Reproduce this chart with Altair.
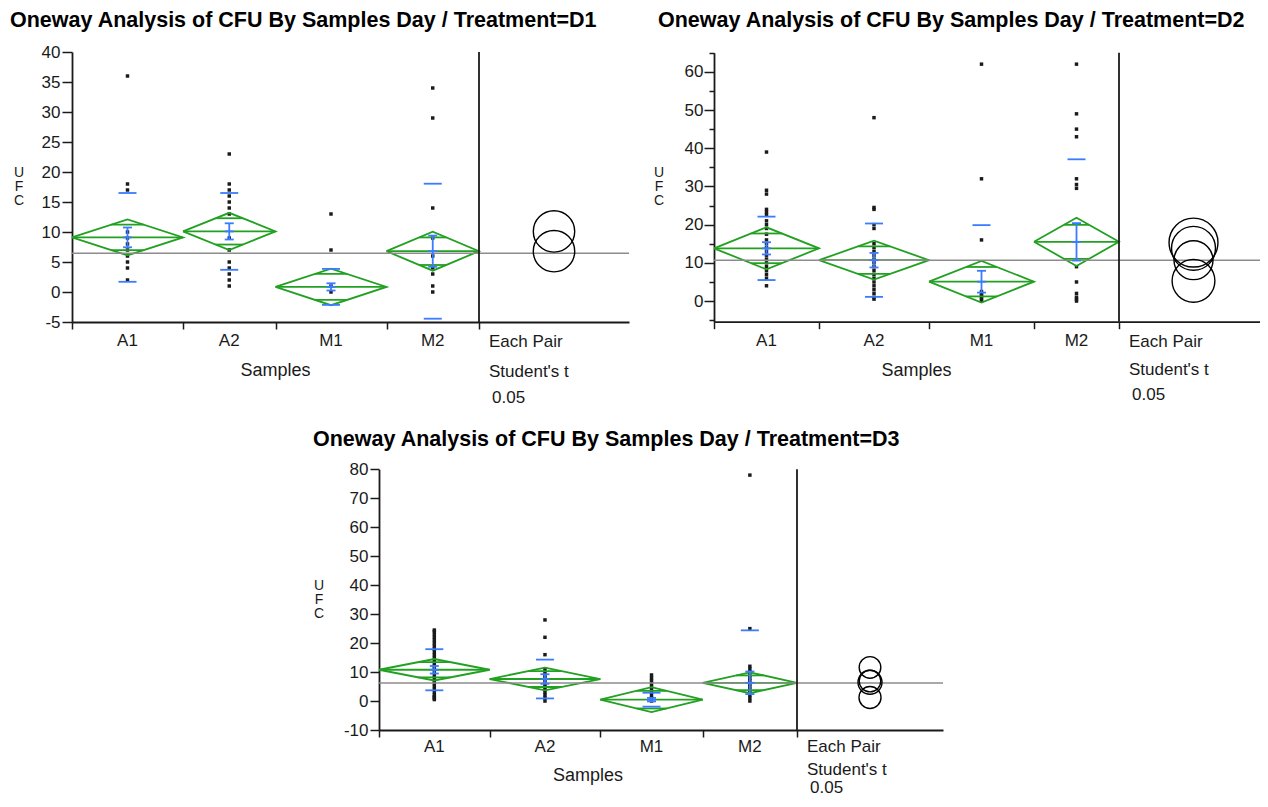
import math
import altair as alt
import pandas as pd

GROUPS = ["A1", "A2", "M1", "M2"]

# ---------------- Day D1 ----------------
D1_N = [12, 10, 12, 10]
D1_A1 = [36, 18, 17, 10, 9, 8, 7, 6, 5, 4, 2]
D1_A2 = [23, 18, 17, 16, 15, 14, 13, 9, 7, 5, 4, 3, 2, 1]
D1_M1 = [13, 7, 1, 0]
D1_M2 = [34, 29, 14, 9, 6, 4, 3, 1, 0]
D1_MEAN = [9.1, 10.1, 0.85, 6.8]
D1_CI = [3.0, 3.1, 3.05, 3.25]
D1_SE = [1.65, 1.35, 0.6, 2.6]
D1_SD = [7.4, 6.4, 3.0, 11.25]
D1_GRAND = 6.45
D1_CIRC_Y = [10.1, 6.8]
D1_CIRC_R = [3.45, 3.45]
D1_YTICKS = [-5, 0, 5, 10, 15, 20, 25, 30, 35, 40]

# ---------------- Day D2 ----------------
D2_N = [21, 22, 21, 17]
D2_A1 = [39, 29, 28, 24, 23.3, 22.6, 21, 20, 19, 17.5, 16, 15, 14, 13, 12, 11, 10, 9, 8, 7, 6, 4]
D2_A2 = [48, 24.5, 24, 20, 19, 15, 14, 13, 12, 11, 10, 9, 8, 7, 6, 5, 4, 3, 2, 1, 0.5]
D2_M1 = [62, 32, 16, 2.5, 2, 1.5, 1, 0.5, 0]
D2_M2 = [62, 49, 45, 43, 32, 30.5, 29.5, 9, 5, 2, 1, 0.5, 0]
D2_MEAN = [13.8, 10.7, 5.07, 15.5]
D2_CI = [5.5, 5.1, 5.45, 6.3]
D2_SE = [1.6, 1.9, 2.85, 4.9]
D2_SD = [8.3, 9.6, 14.8, 21.6]
D2_GRAND = 10.7
D2_CIRC_Y = [15.3, 13.8, 10.7, 5.3]
D2_CIRC_R = [6.4, 5.75, 5.1, 5.6]
D2_YTICKS = [0, 10, 20, 30, 40, 50, 60]
D2_YMINOR = [-5, 5, 15, 25, 35, 45, 55, 65]

# ---------------- Day D3 ----------------
D3_N = [27, 27, 25, 23]
D3_A1 = [24.5, 24, 23, 22, 21, 20, 19, 18, 17, 16, 15, 14, 13, 12, 11, 10, 9, 8, 7, 6, 5, 4, 3, 2, 1.5, 1, 0.5]
D3_A2 = [28, 22, 16, 11, 10, 9, 8, 7, 6, 5, 4, 3, 2, 1, 0]
D3_M1 = [9, 8, 7, 6, 5, 4, 3, 2, 1, 0]
D3_M2 = [78, 25, 12, 11, 10, 9, 8, 7, 6, 5, 4, 3, 2, 1, 0]
D3_MEAN = [10.8, 7.6, 0.47, 6.3]
D3_CI = [3.7, 3.9, 4.3, 3.6]
D3_SE = [1.3, 1.65, 0.6, 3.9]
D3_SD = [7.1, 6.7, 2.4, 18.1]
D3_GRAND = 6.2
D3_CIRC_Y = [11.6, 6.9, 6.5, 1.2]
D3_CIRC_R = [3.73, 3.73, 4.14, 3.8]
D3_YTICKS = [-10, 0, 10, 20, 30, 40, 50, 60, 70, 80]

TITLE_TXT = "Oneway Analysis of CFU By Samples Day / Treatment="

# ---------------- layout / style ----------------
W, H = 1252, 791
FONT = "Liberation Sans"
DARK = "#1a1a1a"
GREEN = "#22a022"
BLUE = "#3a7bff"
GRAY = "#8c8c8c"

LAYOUT = {
    "D1": dict(x0=64, sep=471, x1=621, ytop=44, ybot=314, ylo=-5, yhi=40,
               tick=10, pad=2, title_x=2, title_y=12.5, ylab_x=11,
               lab=19, samp=49, pair=20, stud=50, p05=76),
    "D2": dict(x0=706, sep=1111, x1=1260, ytop=44.7, ybot=313.7, ylo=-5.4, yhi=65,
               tick=10, pad=1, title_x=650, title_y=13, ylab_x=651,
               lab=19, samp=49, pair=20, stud=48, p05=73),
    "D3": dict(x0=371, sep=789, x1=935, ytop=461.3, ybot=722, ylo=-10, yhi=80,
               tick=9, pad=2, title_x=305, title_y=432, ylab_x=311,
               lab=17, samp=46, pair=17, stud=40, p05=58),
}


def panel(key, n, pts, mean, ci, se, sd, grand, cy, cr, yticks, yminor):
    L = LAYOUT[key]
    x0, sep, x1 = L["x0"], L["sep"], L["x1"]
    ytop, ybot, ylo, yhi = L["ytop"], L["ybot"], L["ylo"], L["yhi"]
    N = sum(n)
    xmax = N * (x1 - x0) / (sep - x0)
    ppu_y = (ybot - ytop) / (yhi - ylo)
    xs = alt.Scale(domain=[0, xmax], range=[x0, x1], nice=False, zero=False)
    ys = alt.Scale(domain=[ylo, yhi], range=[ybot, ytop], nice=False, zero=False)

    starts, acc = [], 0
    for k in n:
        starts.append(acc)
        acc += k
    centers = [s + k / 2 for s, k in zip(starts, n)]
    bounds = starts + [N]

    def X(axis=None):
        return alt.X("x:Q", scale=xs, axis=axis)

    def Y(axis=None):
        return alt.Y("y:Q", scale=ys, axis=axis)

    layers = []

    # points with both axes
    pdf = pd.DataFrame([{"g": g, "x": c, "y": v}
                        for g, c, vals in zip(GROUPS, centers, pts) for v in vals])
    xaxis = alt.Axis(orient="bottom", offset=ybot - H, values=bounds, labels=False,
                     tickSize=7, tickColor=DARK, tickWidth=1.5, domainColor=DARK,
                     domainWidth=1.8, grid=False, title=None)
    yaxis = alt.Axis(orient="left", offset=-x0, values=yticks,
                     labelExpr="toString(datum.value)", tickSize=L["tick"],
                     labelPadding=L["pad"], labelFont=FONT, labelFontSize=17,
                     labelColor=DARK, tickColor=DARK, tickWidth=1.5,
                     domainColor=DARK, domainWidth=1.8, grid=False, title=None,
                     labelOverlap=False)
    layers.append(alt.Chart(pdf).mark_square(size=12, color=DARK, opacity=1)
                  .encode(x=X(xaxis), y=Y(yaxis)))

    # diamonds
    rows = []
    for g, s, c, k, m, h in zip(GROUPS, starts, centers, n, mean, ci):
        for o, (xx, yy) in enumerate([(s, m), (c, m + h), (s + k, m), (c, m - h), (s, m)]):
            rows.append({"g": g, "o": o, "x": xx, "y": yy})
    minor_axis = None
    if yminor:
        minor_axis = alt.Axis(orient="left", offset=-x0, values=yminor, labels=False,
                              domain=False, tickSize=5, tickColor=DARK, tickWidth=1.5,
                              grid=False, title=None)
    layers.append(alt.Chart(pd.DataFrame(rows)).mark_line(color=GREEN, strokeWidth=1.8)
                  .encode(x=X(), y=Y(minor_axis), detail="g:N", order="o:Q"))

    # mean lines and overlap marks
    rows = []
    r2 = 1 / math.sqrt(2)
    for s, c, k, m, h in zip(starts, centers, n, mean, ci):
        rows.append({"x": s, "x2": s + k, "y": m})
        hw = k / 2 * (1 - r2)
        rows.append({"x": c - hw, "x2": c + hw, "y": m + h * r2})
        rows.append({"x": c - hw, "x2": c + hw, "y": m - h * r2})
    layers.append(alt.Chart(pd.DataFrame(rows)).mark_rule(color=GREEN, strokeWidth=1.8)
                  .encode(x=X(), x2="x2:Q", y=Y()))

    # grand mean
    layers.append(alt.Chart(pd.DataFrame([{"x": 0, "x2": xmax, "y": grand}]))
                  .mark_rule(color=GRAY, strokeWidth=1.6)
                  .encode(x=X(), x2="x2:Q", y=Y()))

    # separator
    layers.append(alt.Chart(pd.DataFrame([{"x": N, "y": ylo, "y2": yhi}]))
                  .mark_rule(color=DARK, strokeWidth=1.8)
                  .encode(x=X(), y=Y(), y2="y2:Q"))

    # SE bars
    rows = [{"x": c, "y": m - e, "y2": m + e} for c, m, e in zip(centers, mean, se)]
    layers.append(alt.Chart(pd.DataFrame(rows)).mark_rule(color=BLUE, strokeWidth=1.8)
                  .encode(x=X(), y=Y(), y2="y2:Q"))
    rows = []
    for c, m, e in zip(centers, mean, se):
        for yy in (m - e, m, m + e):
            rows.append({"x": c, "y": yy})
    layers.append(alt.Chart(pd.DataFrame(rows))
                  .mark_tick(orient="horizontal", size=9, thickness=1.8, color=BLUE, opacity=1)
                  .encode(x=X(), y=Y()))

    # SD lines
    rows = []
    for c, m, d in zip(centers, mean, sd):
        for yy in (m - d, m + d):
            if ylo <= yy <= yhi:
                rows.append({"x": c, "y": yy})
    layers.append(alt.Chart(pd.DataFrame(rows))
                  .mark_tick(orient="horizontal", size=18, thickness=1.8, color=BLUE, opacity=1)
                  .encode(x=X(), y=Y()))

    # comparison circles
    cx = N + (xmax - N) / 2
    rows = [{"x": cx, "y": yy, "s": (2 * rr * ppu_y) ** 2} for yy, rr in zip(cy, cr)]
    layers.append(alt.Chart(pd.DataFrame(rows))
                  .mark_point(shape="circle", filled=False, color="black",
                              strokeWidth=1.4, opacity=1)
                  .encode(x=X(), y=Y(), size=alt.Size("s:Q", scale=None)))

    # group labels
    layers.append(alt.Chart(pd.DataFrame({"x": centers, "t": GROUPS}))
                  .mark_text(font=FONT, fontSize=17, color=DARK, baseline="middle")
                  .encode(x=X(), y=alt.value(ybot + L["lab"]), text="t:N"))
    layers.append(alt.Chart(pd.DataFrame({"x": [N / 2], "t": ["Samples"]}))
                  .mark_text(font=FONT, fontSize=18, color=DARK, baseline="middle")
                  .encode(x=X(), y=alt.value(ybot + L["samp"]), text="t:N"))

    # right-hand annotations
    for txt, dy, dx in [("Each Pair", L["pair"], 10), ("Student's t", L["stud"], 10),
                        ("0.05", L["p05"], 13)]:
        layers.append(alt.Chart(pd.DataFrame({"t": [txt]}))
                      .mark_text(font=FONT, fontSize=17, color=DARK, align="left",
                                 baseline="middle")
                      .encode(x=alt.value(sep + dx), y=alt.value(ybot + dy), text="t:N"))

    # title
    layers.append(alt.Chart(pd.DataFrame({"t": [TITLE_TXT + key]}))
                  .mark_text(font=FONT, fontSize=21.5, fontWeight="bold", color="black",
                             align="left", baseline="middle")
                  .encode(x=alt.value(L["title_x"]), y=alt.value(L["title_y"]), text="t:N"))

    # stacked y title (first line placed one line above centre)
    layers.append(alt.Chart(pd.DataFrame({"t": ["U\nF\nC"]}))
                  .mark_text(font=FONT, fontSize=14, color=DARK, align="center",
                             baseline="middle", lineBreak="\n", lineHeight=14)
                  .encode(x=alt.value(L["ylab_x"]), y=alt.value((ytop + ybot) / 2 - 14),
                          text="t:N"))
    return layers


layers = []
layers += panel("D1", D1_N, [D1_A1, D1_A2, D1_M1, D1_M2], D1_MEAN, D1_CI, D1_SE, D1_SD,
                D1_GRAND, D1_CIRC_Y, D1_CIRC_R, D1_YTICKS, None)
layers += panel("D2", D2_N, [D2_A1, D2_A2, D2_M1, D2_M2], D2_MEAN, D2_CI, D2_SE, D2_SD,
                D2_GRAND, D2_CIRC_Y, D2_CIRC_R, D2_YTICKS, D2_YMINOR)
layers += panel("D3", D3_N, [D3_A1, D3_A2, D3_M1, D3_M2], D3_MEAN, D3_CI, D3_SE, D3_SD,
                D3_GRAND, D3_CIRC_Y, D3_CIRC_R, D3_YTICKS, None)

chart = (
    alt.layer(*layers)
    .resolve_scale(x="independent", y="independent")
    .resolve_axis(x="independent", y="independent")
    .properties(width=W, height=H, padding=0,
                autosize=alt.AutoSizeParams(type="none"), background="white")
    .configure_view(stroke=None)
)

chart.save("out.html", embed_options={"renderer": "svg", "actions": False})
